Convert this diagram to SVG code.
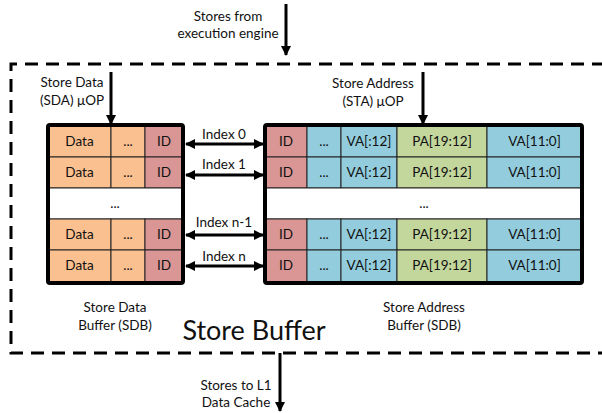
<svg xmlns="http://www.w3.org/2000/svg" width="602" height="413" viewBox="0 0 602 413">
<defs>
<marker id="ah" markerWidth="10" markerHeight="10" refX="9" refY="5" orient="auto-start-reverse" markerUnits="userSpaceOnUse" viewBox="0 0 10 10">
<path d="M0,0 L10,5 L0,10 z" fill="#000"/>
</marker>
<style>
text{font-family:Lato,"Liberation Sans",sans-serif;fill:#111;}
.t{font-size:13.5px;text-anchor:middle;}
.c{stroke:#222;stroke-width:1;}
.o{fill:#FAC090;}
.r{fill:#D99694;}
.b{fill:#93CDDD;}
.g{fill:#C3D69B;}
.w{fill:#fff;}
.frame{fill:none;stroke:#000;stroke-width:4;}
.arr{stroke:#000;stroke-width:3;fill:none;}
.dash{fill:none;stroke:#000;stroke-width:3;stroke-dasharray:13 8;}
</style>
</defs>
<g id="store-buffer">
<path class="dash" d="M605,64 L11,64 L11,353 L605,353"/>
<text x="254" y="340" style="font-size:27px;text-anchor:middle">Store Buffer</text>
</g>
<g id="sdb">
<rect class="c o" x="48" y="125" width="63" height="32"/><rect class="c o" x="111" y="125" width="34" height="32"/><rect class="c r" x="145" y="125" width="38" height="32"/>
<rect class="c o" x="48" y="157" width="63" height="31"/><rect class="c o" x="111" y="157" width="34" height="31"/><rect class="c r" x="145" y="157" width="38" height="31"/>
<rect class="c w" x="48" y="188" width="135" height="31"/>
<rect class="c o" x="48" y="219" width="63" height="31"/><rect class="c o" x="111" y="219" width="34" height="31"/><rect class="c r" x="145" y="219" width="38" height="31"/>
<rect class="c o" x="48" y="250" width="63" height="33"/><rect class="c o" x="111" y="250" width="34" height="33"/><rect class="c r" x="145" y="250" width="38" height="33"/>
<rect class="frame" x="48" y="125" width="135" height="158" rx="2"/>
<text class="t" x="79.5" y="146">Data</text><text class="t" x="128" y="146">...</text><text class="t" x="164" y="146">ID</text>
<text class="t" x="79.5" y="177">Data</text><text class="t" x="128" y="177">...</text><text class="t" x="164" y="177">ID</text>
<text class="t" x="115" y="208">...</text>
<text class="t" x="79.5" y="239">Data</text><text class="t" x="128" y="239">...</text><text class="t" x="164" y="239">ID</text>
<text class="t" x="79.5" y="270">Data</text><text class="t" x="128" y="270">...</text><text class="t" x="164" y="270">ID</text>
<text class="t" x="115" y="312">Store Data</text>
<text class="t" x="115" y="330">Buffer (SDB)</text>
</g>
<g id="sab">
<rect class="c r" x="265" y="125" width="42" height="32"/><rect class="c b" x="307" y="125" width="34" height="32"/><rect class="c b" x="341" y="125" width="56" height="32"/><rect class="c g" x="397" y="125" width="90" height="32"/><rect class="c b" x="487" y="125" width="95" height="32"/>
<rect class="c r" x="265" y="157" width="42" height="31"/><rect class="c b" x="307" y="157" width="34" height="31"/><rect class="c b" x="341" y="157" width="56" height="31"/><rect class="c g" x="397" y="157" width="90" height="31"/><rect class="c b" x="487" y="157" width="95" height="31"/>
<rect class="c w" x="265" y="188" width="317" height="31"/>
<rect class="c r" x="265" y="219" width="42" height="31"/><rect class="c b" x="307" y="219" width="34" height="31"/><rect class="c b" x="341" y="219" width="56" height="31"/><rect class="c g" x="397" y="219" width="90" height="31"/><rect class="c b" x="487" y="219" width="95" height="31"/>
<rect class="c r" x="265" y="250" width="42" height="33"/><rect class="c b" x="307" y="250" width="34" height="33"/><rect class="c b" x="341" y="250" width="56" height="33"/><rect class="c g" x="397" y="250" width="90" height="33"/><rect class="c b" x="487" y="250" width="95" height="33"/>
<rect class="frame" x="265" y="125" width="317" height="158" rx="2"/>
<text class="t" x="286" y="146">ID</text><text class="t" x="324" y="146">...</text><text class="t" x="369" y="146">VA[:12]</text><text class="t" x="442" y="146">PA[19:12]</text><text class="t" x="534.5" y="146">VA[11:0]</text>
<text class="t" x="286" y="177">ID</text><text class="t" x="324" y="177">...</text><text class="t" x="369" y="177">VA[:12]</text><text class="t" x="442" y="177">PA[19:12]</text><text class="t" x="534.5" y="177">VA[11:0]</text>
<text class="t" x="424" y="208">...</text>
<text class="t" x="286" y="239">ID</text><text class="t" x="324" y="239">...</text><text class="t" x="369" y="239">VA[:12]</text><text class="t" x="442" y="239">PA[19:12]</text><text class="t" x="534.5" y="239">VA[11:0]</text>
<text class="t" x="286" y="270">ID</text><text class="t" x="324" y="270">...</text><text class="t" x="369" y="270">VA[:12]</text><text class="t" x="442" y="270">PA[19:12]</text><text class="t" x="534.5" y="270">VA[11:0]</text>
<text class="t" x="424" y="312">Store Address</text>
<text class="t" x="424" y="330">Buffer (SDB)</text>
</g>
<g id="labels">
<text class="t" x="228" y="21">Stores from</text>
<text class="t" x="228" y="38">execution engine</text>
<text class="t" x="72" y="87">Store Data</text>
<text class="t" x="72" y="105">(SDA) μOP</text>
<text class="t" x="373" y="88">Store Address</text>
<text class="t" x="373" y="106">(STA) μOP</text>
<text class="t" x="236" y="390">Stores to L1</text>
<text class="t" x="236" y="407">Data Cache</text>
<text class="t" x="224" y="139">Index 0</text>
<text class="t" x="224" y="169">Index 1</text>
<text class="t" x="224" y="227">Index n-1</text>
<text class="t" x="224" y="261">Index n</text>
</g>
<g id="connectors">
<path class="arr" d="M286,4 L286,55" marker-end="url(#ah)"/>
<path class="arr" d="M111,72 L111,124" marker-end="url(#ah)"/>
<path class="arr" d="M423,72 L423,124" marker-end="url(#ah)"/>
<path class="arr" d="M280,353 L280,411" marker-end="url(#ah)"/>
<path class="arr" d="M186,144 L263,144" marker-start="url(#ah)" marker-end="url(#ah)"/>
<path class="arr" d="M186,175 L263,175" marker-start="url(#ah)" marker-end="url(#ah)"/>
<path class="arr" d="M186,235 L263,235" marker-start="url(#ah)" marker-end="url(#ah)"/>
<path class="arr" d="M186,266 L263,266" marker-start="url(#ah)" marker-end="url(#ah)"/>
</g>
</svg>
